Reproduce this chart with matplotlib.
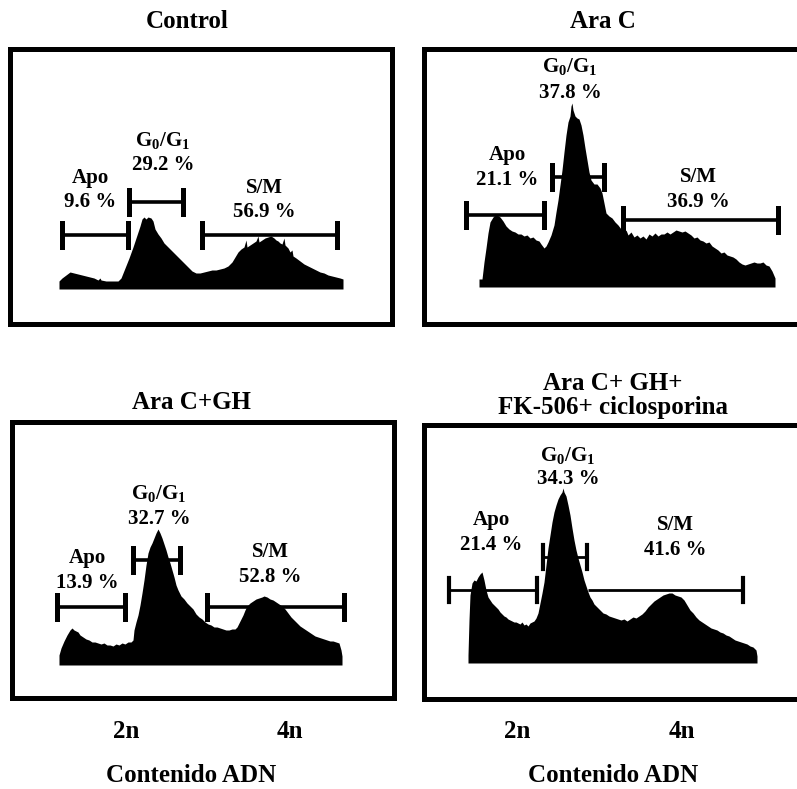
import matplotlib.pyplot as plt

plt.rcParams['font.family'] = ['Liberation Serif', 'DejaVu Serif']
plt.rcParams['font.weight'] = 'bold'
plt.rcParams['mathtext.fontset'] = 'custom'
plt.rcParams['mathtext.rm'] = 'Liberation Serif:bold'
plt.rcParams['mathtext.default'] = 'rm'

W, H = 797, 789

titles = ['Control', 'Ara C', 'Ara C+GH', 'Ara C+ GH+\nFK-506+ ciclosporina']

# DNA histograms: channel, counts
ctrl_ch = [59, 62, 66, 70, 74, 78, 82, 86, 90, 94, 98, 100, 101, 106, 112, 118, 121, 125, 129, 133,
           137, 140, 142, 144, 146, 148, 151, 153, 155, 158, 161, 164, 168, 172, 176, 180, 184, 188,
           192, 196, 200, 204, 208, 212, 216, 220, 224, 228, 232, 235, 238, 241, 244, 246, 247, 250,
           253, 256, 258, 259, 262, 265, 268, 271, 274, 276, 278, 280, 282, 284, 285, 288, 290, 292,
           293, 296, 300, 304, 308, 312, 316, 320, 324, 328, 332, 336, 340, 343]
ctrl_counts = [8, 11, 14, 17, 16, 15, 14, 13, 12, 11, 9, 11, 9, 8, 8, 8, 11, 21, 31, 42,
               54, 63, 70, 72, 70, 72, 71, 68, 60, 55, 51, 46, 42, 38, 34, 30, 26, 22,
               18, 16, 16, 17, 18, 19, 19, 20, 21, 23, 27, 32, 37, 40, 42, 49, 42, 44,
               46, 48, 53, 47, 49, 51, 52, 53, 51, 49, 48, 46, 45, 51, 44, 41, 37, 39,
               33, 31, 28, 25, 23, 21, 19, 17, 16, 14, 13, 12, 11, 10]

arac_ch = [479, 482, 484, 486, 488, 490, 493, 495, 497, 500, 503, 506, 509, 512, 515, 518, 521, 524,
           527, 530, 533, 536, 539, 541, 544, 546, 548, 551, 554, 556, 558, 560, 562, 564, 566, 568,
           570, 571, 572, 573, 575, 577, 579, 581, 583, 585, 587, 589, 591, 594, 597, 600, 602, 604,
           606, 609, 612, 615, 618, 621, 624, 626, 628, 631, 634, 637, 640, 643, 646, 649, 652, 655,
           658, 661, 664, 667, 670, 673, 676, 679, 682, 685, 688, 691, 694, 697, 700, 703, 706, 709,
           712, 715, 718, 721, 724, 727, 730, 733, 736, 739, 742, 745, 748, 751, 754, 757, 760, 763,
           766, 769, 772, 775]
arac_counts = [8, 8, 25, 39, 54, 65, 70, 72, 72, 70, 66, 61, 58, 56, 55, 53, 53, 51,
               52, 49, 50, 47, 46, 43, 39, 41, 45, 52, 62, 75, 87, 102, 117, 135, 152, 165,
               171, 181, 184, 177, 171, 169, 168, 162, 152, 139, 127, 115, 107, 103, 103, 99, 94, 84,
               74, 71, 69, 65, 62, 58, 54, 57, 52, 55, 50, 52, 49, 51, 48, 53, 51, 54,
               51, 53, 53, 55, 53, 55, 57, 56, 55, 56, 54, 52, 49, 50, 47, 46, 44, 45,
               41, 39, 37, 34, 35, 32, 31, 30, 28, 25, 23, 22, 23, 24, 25, 24, 24, 25,
               22, 21, 16, 9]

gh_ch = [59, 61, 64, 67, 70, 72, 74, 76, 78, 80, 83, 86, 89, 92, 95, 98, 101, 104, 107, 110, 113,
         116, 119, 122, 125, 128, 131, 133, 134, 136, 138, 140, 142, 144, 146, 148, 150, 152, 154,
         156, 158, 160, 162, 164, 166, 168, 170, 172, 174, 176, 178, 181, 184, 187, 190, 193, 196,
         199, 202, 205, 208, 211, 214, 217, 220, 223, 226, 229, 232, 235, 237, 239, 241, 243, 245,
         247, 250, 253, 256, 259, 262, 264, 267, 270, 273, 276, 279, 282, 285, 288, 291, 294, 297,
         300, 303, 306, 309, 312, 315, 318, 321, 324, 327, 330, 333, 336, 339, 341, 342]
gh_counts = [10, 17, 24, 30, 35, 37, 35, 34, 33, 30, 28, 26, 25, 23, 23, 22, 21, 22, 20, 20, 19,
             21, 20, 22, 21, 23, 23, 25, 35, 43, 50, 60, 72, 85, 100, 112, 118, 122, 127,
             132, 136, 132, 127, 121, 115, 108, 102, 95, 88, 80, 75, 69, 66, 62, 59, 56, 51,
             48, 46, 43, 41, 40, 38, 38, 37, 36, 35, 35, 36, 36, 38, 42, 46, 50, 55,
             59, 62, 64, 66, 67, 68, 69, 68, 66, 65, 63, 61, 59, 56, 52, 48, 45, 42,
             39, 37, 35, 33, 31, 29, 28, 27, 26, 25, 24, 24, 23, 22, 15, 9]

fk_ch = [468, 469, 470, 472, 474, 476, 478, 480, 482, 484, 486, 488, 490, 492, 494, 496, 498, 500,
         502, 504, 506, 508, 510, 512, 514, 516, 518, 520, 522, 524, 526, 528, 530, 532, 534, 536,
         538, 540, 542, 544, 546, 548, 550, 552, 554, 556, 558, 560, 562, 563, 564, 566, 568, 570,
         572, 574, 576, 578, 580, 582, 584, 586, 588, 590, 592, 594, 597, 600, 603, 606, 609, 612,
         615, 618, 621, 624, 627, 630, 633, 636, 639, 642, 645, 648, 651, 654, 657, 660, 663, 666,
         669, 672, 675, 678, 681, 684, 687, 690, 693, 696, 699, 702, 705, 708, 711, 714, 717, 720,
         723, 726, 729, 732, 735, 738, 741, 744, 747, 750, 753, 756, 757]
fk_counts = [8, 43, 68, 80, 83, 82, 86, 89, 91, 83, 73, 66, 63, 60, 58, 56, 54, 51,
             49, 47, 46, 44, 43, 42, 41, 41, 40, 39, 41, 38, 39, 37, 40, 41, 42, 45,
             50, 60, 70, 81, 98, 115, 128, 141, 151, 158, 164, 168, 171, 175, 171, 167, 158, 148,
             135, 123, 113, 105, 98, 91, 83, 77, 71, 66, 63, 59, 56, 53, 50, 49, 47, 46,
             45, 44, 43, 44, 42, 44, 46, 45, 47, 49, 52, 56, 59, 62, 64, 66, 68, 69,
             70, 70, 68, 67, 66, 63, 58, 53, 50, 46, 43, 41, 39, 37, 35, 34, 33, 31,
             30, 28, 27, 25, 23, 22, 21, 20, 19, 17, 16, 13, 7]

channels = [ctrl_ch, arac_ch, gh_ch, fk_ch]
counts = [ctrl_counts, arac_counts, gh_counts, fk_counts]

# gates (start, end, level)
apo_gate = [(62, 128, 54), (466, 544, 72), (57, 125, 58), (449, 537, 73)]
g1_gate = [(129, 183, 87), (552, 604, 110), (133, 180, 105), (543, 587, 106)]
sm_gate = [(202, 337, 54), (623, 778, 67), (207, 344, 58), (588, 743, 73)]

apo_pct = ['9.6 %', '21.1 %', '13.9 %', '21.4 %']
g1_pct = ['29.2 %', '37.8 %', '32.7 %', '34.3 %']
sm_pct = ['56.9 %', '36.9 %', '52.8 %', '41.6 %']

# label centres (x, y of name line, y of percent line)
apo_pos = [(90, 111, 87), (507, 132, 107), (87, 107, 82), (491, 143, 118)]
g1_pos = [(163, 148, 124), (570, 220, 194), (159, 171, 146), (568, 208, 184)]
sm_pos = [(264, 101, 77), (698, 110, 85), (270, 113, 88), (675, 138, 113)]

# box in pixels: left, right, top, bottom, baseline
boxes = [(9.5, 391.5, 49, 324, 289),
         (423.5, 860, 49, 324, 287),
         (11.5, 393.5, 422, 697.5, 665),
         (423.5, 860, 424.5, 698.5, 663)]

fig = plt.figure(figsize=(W / 100, H / 100), dpi=100)

for i in range(4):
    l, r, t, b, base = boxes[i]
    ax = fig.add_axes([l / W, (H - b) / H, (r - l) / W, (b - t) / H])
    ax.set_xlim(l, r)
    ax.set_ylim(base - b, base - t)
    ax.set_xticks([])
    ax.set_yticks([])
    for s in ax.spines.values():
        s.set_linewidth(3.6)

    ax.fill_between(channels[i], 0, counts[i], color='black', lw=0)

    lw = 2.0 if i == 3 else 2.6
    for j, gate in enumerate([apo_gate[i], g1_gate[i], sm_gate[i]]):
        x0, x1, lev = gate
        ax.plot([x0, x1], [lev, lev], color='black', lw=lw, solid_capstyle='butt')
        if not (i == 3 and j == 2):
            ax.plot([x0, x0], [lev - 12, lev + 12], color='black', lw=lw + 1)
        ax.plot([x1, x1], [lev - 12, lev + 12], color='black', lw=lw + 1)

    x, y1, y2 = apo_pos[i]
    ax.text(x, y1, 'Apo', ha='center', va='center', fontsize=15)
    ax.text(x, y2, apo_pct[i], ha='center', va='center', fontsize=15)
    x, y1, y2 = g1_pos[i]
    ax.text(x, y1, 'G$_0$/G$_1$', ha='center', va='center', fontsize=15)
    ax.text(x, y2, g1_pct[i], ha='center', va='center', fontsize=15)
    x, y1, y2 = sm_pos[i]
    ax.text(x, y1, 'S/M', ha='center', va='center', fontsize=15)
    ax.text(x, y2, sm_pct[i], ha='center', va='center', fontsize=15)

# titles
fig.text(187 / W, 1 - 22 / H, titles[0], ha='center', va='center', fontsize=18)
fig.text(603 / W, 1 - 22 / H, titles[1], ha='center', va='center', fontsize=18)
fig.text(191 / W, 1 - 403 / H, titles[2], ha='center', va='center', fontsize=18)
for k, line in enumerate(titles[3].split('\n')):
    fig.text(613 / W, 1 - (383 + 24 * k) / H, line, ha='center', va='center', fontsize=18)

# x labels
for x2, x4, xc in [(126, 290, 191), (517, 682, 613)]:
    fig.text(x2 / W, 1 - 732 / H, '2n', ha='center', va='center', fontsize=18)
    fig.text(x4 / W, 1 - 732 / H, '4n', ha='center', va='center', fontsize=18)
    fig.text(xc / W, 1 - 775 / H, 'Contenido ADN', ha='center', va='center', fontsize=18)

plt.savefig('out.png', dpi=100)
